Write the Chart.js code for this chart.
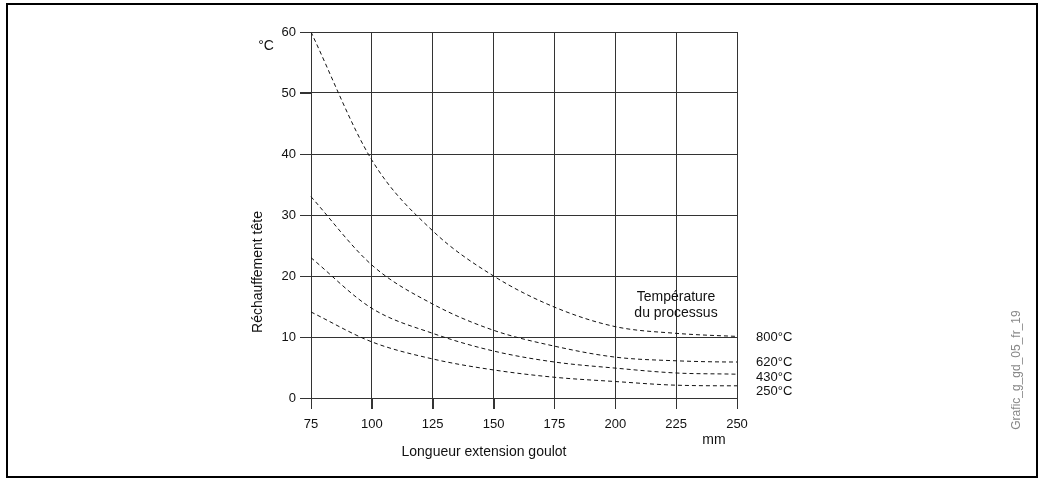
<!DOCTYPE html>
<html>
<head>
<meta charset="utf-8">
<title>Réchauffement tête</title>
<script src="https://cdn.jsdelivr.net/npm/chart.js@4.4.1/dist/chart.umd.min.js"></script>
<style>
  html, body { margin: 0; padding: 0; background: #fff; }
  #wrap { position: relative; width: 1043px; height: 480px; }
</style>
</head>
<body>
<div id="wrap"><canvas id="chart"></canvas></div>
<script>
// DATA VALUES
var xValues = [75, 100, 125, 150, 175, 200, 225, 250, 257.5];
var curve800 = [60, 39, 27.4, 20, 14.9, 11.7, 10.6, 10.1, 10.0];
var curve620 = [33, 21.8, 15.4, 11.1, 8.5, 6.7, 6.1, 5.9, 5.9];
var curve430 = [23, 14.7, 10.6, 7.7, 5.9, 4.9, 4.1, 3.9, 3.8];
var curve250 = [14.1, 9.2, 6.4, 4.6, 3.4, 2.7, 2.1, 2.0, 2.0];
var seriesNames = ["800°C", "620°C", "430°C", "250°C"];
var seriesValues = [curve800, curve620, curve430, curve250];
var labelY = [10.0, 5.9, 3.3, 1.0]; // where the names sit, in °C
var yTicks = [0, 10, 20, 30, 40, 50, 60];
var xTicks = [75, 100, 125, 150, 175, 200, 225, 250];

var FONT = "'Liberation Sans', Arial, sans-serif";

function toPoints(vals) {
  return vals.map(function (v, i) { return { x: xValues[i], y: v }; });
}

const datasets = seriesValues.map(function (vals, i) {
  return {
    label: seriesNames[i],
    data: toPoints(vals),
    borderColor: "#111",
    borderWidth: 1,
    borderDash: [4, 3],
    pointRadius: 0,
    tension: 0.4,
    cubicInterpolationMode: "monotone",
    clip: false,
    fill: false
  };
});

// frame, tick marks, titles and the text in the plot
const extraText = {
  id: "extraText",
  afterDraw(chart) {
    const ctx = chart.ctx;
    const x = chart.scales.x, y = chart.scales.y;
    const a = chart.chartArea;
    ctx.save();
    // outer frame
    ctx.strokeStyle = "#000";
    ctx.lineWidth = 2;
    ctx.strokeRect(7, 4, 1030, 473);

    // tick marks outside the plot
    ctx.strokeStyle = "#333";
    ctx.lineWidth = 1;
    ctx.beginPath();
    yTicks.forEach(function (v) {
      const py = Math.round(y.getPixelForValue(v)) + 0.5;
      ctx.moveTo(a.left - 11, py);
      ctx.lineTo(a.left, py);
    });
    xTicks.forEach(function (v) {
      const px = Math.round(x.getPixelForValue(v)) + 0.5;
      ctx.moveTo(px, a.bottom);
      ctx.lineTo(px, a.bottom + 11);
    });
    ctx.moveTo(a.left, a.top + 0.5);
    ctx.lineTo(a.right, a.top + 0.5);
    ctx.stroke();

    ctx.fillStyle = "#111";
    ctx.font = "14px " + FONT;
    ctx.textBaseline = "middle";
    ctx.textAlign = "center";
    ctx.fillText("°C", 266, 46);
    ctx.fillText("Longueur extension goulot", 484, 452);
    ctx.fillText("mm", 714, 440);
    ctx.fillText("Température", 676, 297);
    ctx.fillText("du processus", 676, 313);

    ctx.save();
    ctx.translate(258, 272);
    ctx.rotate(-Math.PI / 2);
    ctx.fillText("Réchauffement tête", 0, 0);
    ctx.restore();

    ctx.font = "13px " + FONT;
    ctx.textAlign = "left";
    seriesNames.forEach(function (n, i) {
      ctx.fillText(n, x.getPixelForValue(250) + 19, y.getPixelForValue(labelY[i]));
    });

    ctx.fillStyle = "#888";
    ctx.font = "12px " + FONT;
    ctx.save();
    ctx.translate(1017, 370);
    ctx.rotate(-Math.PI / 2);
    ctx.textAlign = "center";
    ctx.fillText("Grafic_g_gd_05_fr_19", 0, 0);
    ctx.restore();
    ctx.restore();
  }
};

const config = {
  type: "line",
  data: { datasets: datasets },
  options: {
    responsive: true,
    maintainAspectRatio: false,
    animation: false,
    layout: { padding: { left: 0, top: 32, right: 306, bottom: 0 } },
    plugins: { legend: { display: false }, tooltip: { enabled: false } },
    scales: {
      x: {
        type: "linear",
        min: 75,
        max: 250,
        afterBuildTicks: function (s) { s.ticks = xTicks.map(function (v) { return { value: v }; }); },
        afterFit: function (s) { s.height = 82; },
        grid: { color: "#333", lineWidth: 1, tickLength: 11, drawTicks: true },
        border: { color: "#333", width: 1 },
        ticks: { color: "#111", padding: 8, maxRotation: 0, font: { size: 13, family: FONT } }
      },
      y: {
        min: 0,
        max: 60,
        afterBuildTicks: function (s) { s.ticks = yTicks.map(function (v) { return { value: v }; }); },
        afterFit: function (s) { s.width = 311; },
        grid: { color: "#333", lineWidth: 1, tickLength: 11, drawTicks: true },
        border: { color: "#333", width: 1 },
        ticks: { color: "#111", padding: 4, font: { size: 13, family: FONT } }
      }
    }
  },
  plugins: [extraText]
};

const chart = new Chart("chart", config);
</script>
</body>
</html>
